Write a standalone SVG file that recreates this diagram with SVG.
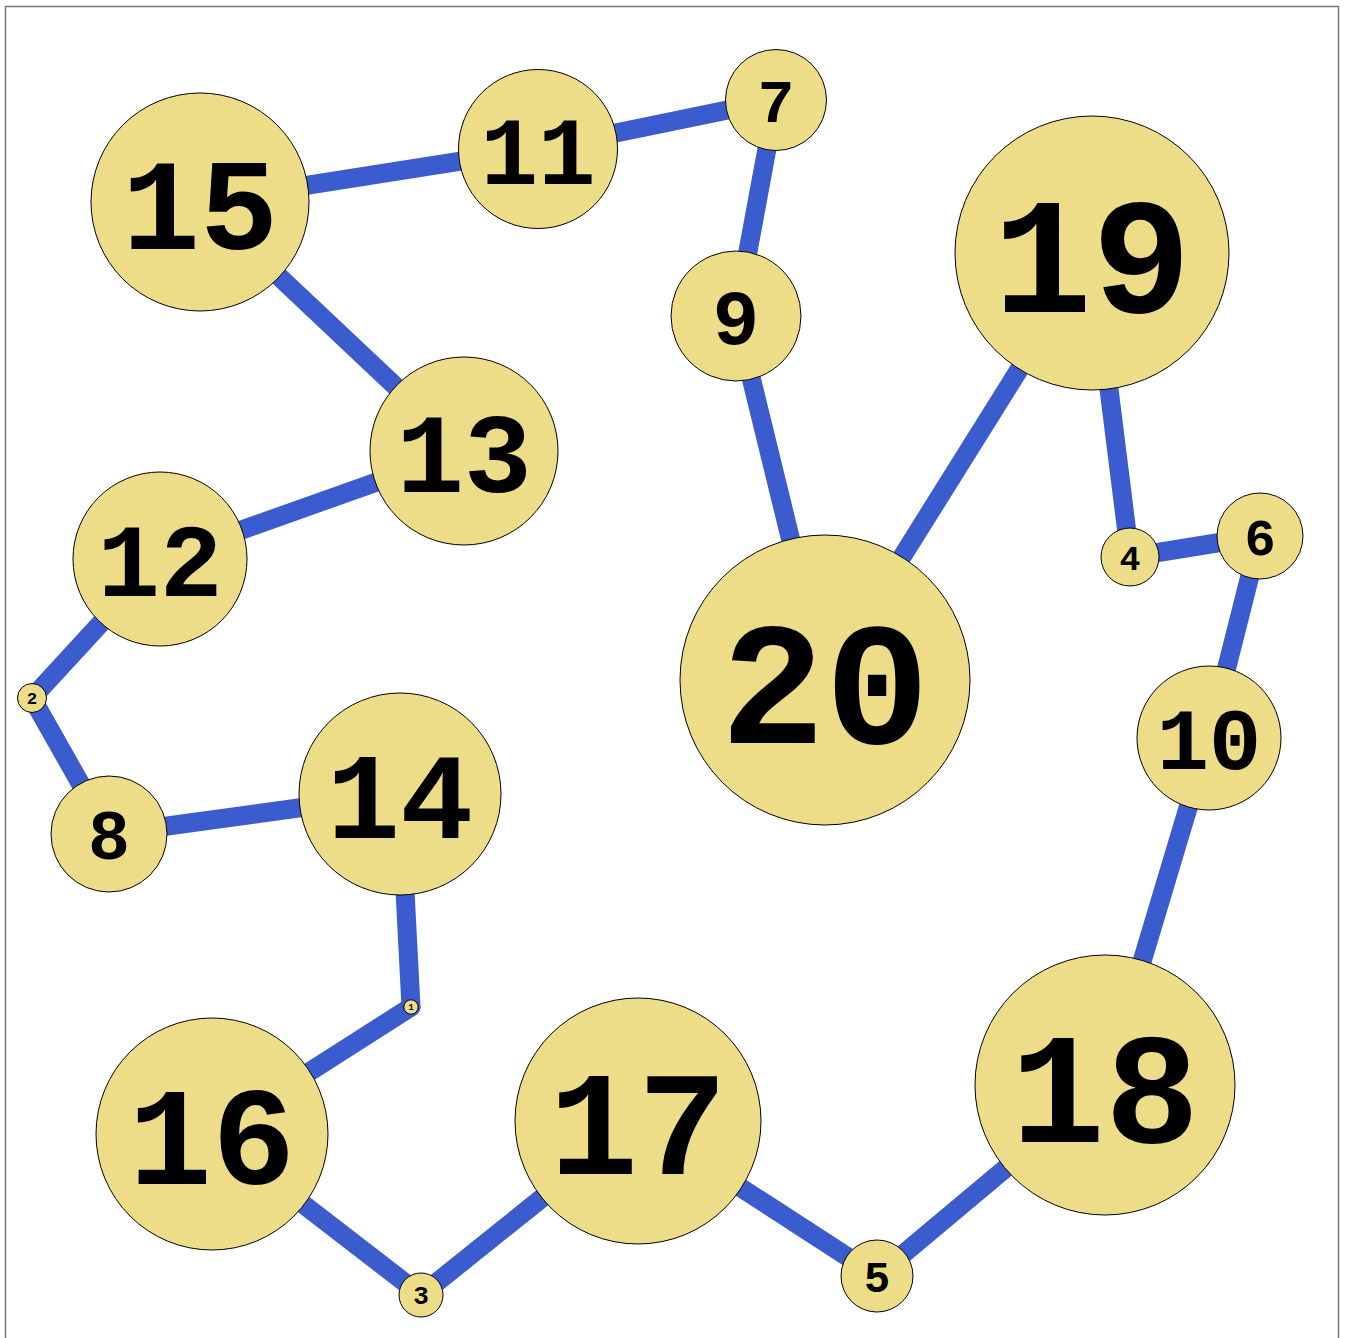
<svg xmlns="http://www.w3.org/2000/svg" width="1345" height="1338" viewBox="0 0 1345 1338">
<style>
.n circle{fill:#EEDD88;stroke:#000;stroke-width:1}
.n text{font-family:"Liberation Mono","DejaVu Sans Mono",monospace;font-weight:bold;text-anchor:middle;fill:#000}
#edges line{stroke:#3B5CCF;stroke-width:19;stroke-linecap:round}
</style>
<rect x="0" y="0" width="1345" height="1338" fill="#fff"/>
<rect x="5.5" y="6.5" width="1333" height="1345" fill="none" stroke="#777" stroke-width="1.5"/>
<g id="edges">
<line x1="200" y1="202" x2="538" y2="149"/>
<line x1="538" y1="149" x2="776" y2="100"/>
<line x1="776" y1="100" x2="736" y2="316"/>
<line x1="736" y1="316" x2="825" y2="680"/>
<line x1="825" y1="680" x2="1092" y2="253"/>
<line x1="1092" y1="253" x2="1130" y2="557"/>
<line x1="1130" y1="557" x2="1260" y2="536"/>
<line x1="1260" y1="536" x2="1209" y2="738"/>
<line x1="1209" y1="738" x2="1105" y2="1085"/>
<line x1="1105" y1="1085" x2="877" y2="1276"/>
<line x1="877" y1="1276" x2="638" y2="1121"/>
<line x1="638" y1="1121" x2="421" y2="1295"/>
<line x1="421" y1="1295" x2="212" y2="1134"/>
<line x1="212" y1="1134" x2="411" y2="1007"/>
<line x1="411" y1="1007" x2="400" y2="794"/>
<line x1="400" y1="794" x2="109" y2="834"/>
<line x1="109" y1="834" x2="32" y2="698"/>
<line x1="32" y1="698" x2="160" y2="559"/>
<line x1="160" y1="559" x2="464" y2="451"/>
<line x1="464" y1="451" x2="200" y2="202"/>
</g>
<g id="node1" class="n"><circle cx="411" cy="1007" r="7.2"/><text x="411" y="1010.1" font-size="8.7">1</text></g>
<g id="node2" class="n"><circle cx="32" cy="698" r="14.5"/><text x="32" y="704.3" font-size="17.4">2</text></g>
<g id="node3" class="n"><circle cx="421" cy="1295" r="22"/><text x="421" y="1304.4" font-size="26">3</text></g>
<g id="node4" class="n"><circle cx="1130" cy="557" r="29"/><text x="1130" y="569.6" font-size="35">4</text></g>
<g id="node5" class="n"><circle cx="877" cy="1276" r="36"/><text x="877" y="1291.7" font-size="43.5">5</text></g>
<g id="node6" class="n"><circle cx="1260" cy="536" r="43"/><text x="1260" y="554.7" font-size="52">6</text></g>
<g id="node7" class="n"><circle cx="776" cy="100" r="50.5"/><text x="776" y="122" font-size="61">7</text></g>
<g id="node8" class="n"><circle cx="109" cy="834" r="58"/><text x="109" y="859.2" font-size="70">8</text></g>
<g id="node9" class="n"><circle cx="736" cy="316" r="65"/><text x="736" y="344" font-size="78">9</text></g>
<g id="node10" class="n"><circle cx="1209" cy="738" r="72"/><text x="1209" y="769.3" font-size="87">10</text></g>
<g id="node11" class="n"><circle cx="538" cy="149" r="79.5"/><text x="538" y="183.6" font-size="96">11</text></g>
<g id="node12" class="n"><circle cx="160" cy="559" r="87"/><text x="160" y="596.4" font-size="104">12</text></g>
<g id="node13" class="n"><circle cx="464" cy="451" r="94"/><text x="464" y="491.7" font-size="113">13</text></g>
<g id="node14" class="n"><circle cx="400" cy="794" r="101"/><text x="400" y="837.9" font-size="122">14</text></g>
<g id="node15" class="n"><circle cx="200" cy="202" r="109"/><text x="200" y="248.8" font-size="130">15</text></g>
<g id="node16" class="n"><circle cx="212" cy="1134" r="116"/><text x="212" y="1184" font-size="139">16</text></g>
<g id="node17" class="n"><circle cx="638" cy="1121" r="123"/><text x="638" y="1174.3" font-size="148">17</text></g>
<g id="node18" class="n"><circle cx="1105" cy="1085" r="130"/><text x="1105" y="1141.5" font-size="157">18</text></g>
<g id="node19" class="n"><circle cx="1092" cy="253" r="137"/><text x="1092" y="312.4" font-size="165">19</text></g>
<g id="node20" class="n"><circle cx="825" cy="680" r="145"/><text x="825" y="742.6" font-size="174">20</text></g>
</svg>
